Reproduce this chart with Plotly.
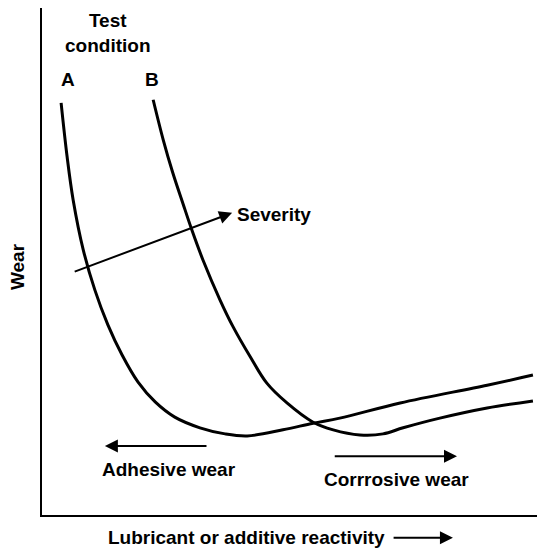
import plotly.graph_objects as go

# curve for test condition A (x = reactivity, y = wear)
a_x = [0.38, 0.50, 0.62, 0.82, 1.05, 1.31, 1.59, 1.91, 2.25, 2.64, 3.14, 3.64, 4.08, 4.79, 5.39, 5.92, 7.12, 8.85, 9.76]
a_y = [8.13, 7.06, 6.21, 5.23, 4.44, 3.75, 3.16, 2.62, 2.23, 1.93, 1.72, 1.60, 1.56, 1.68, 1.81, 1.91, 2.21, 2.56, 2.76]

# curve for test condition B
b_x = [2.21, 2.41, 2.60, 2.80, 2.98, 3.20, 3.54, 3.80, 4.14, 4.47, 4.87, 5.39, 5.79, 6.32, 6.78, 7.18, 7.91, 8.85, 9.76]
b_y = [8.19, 7.40, 6.75, 6.15, 5.62, 5.03, 4.24, 3.71, 3.12, 2.60, 2.21, 1.83, 1.68, 1.58, 1.60, 1.72, 1.91, 2.11, 2.25]

# arrows inside the plot: (tail x, tail y, head x, head y)
severity_arrow = (0.62, 4.79, 3.78, 5.96)
adhesive_arrow = (3.30, 1.36, 1.25, 1.36)
corrosive_arrow = (5.79, 1.16, 8.25, 1.16)

# text labels inside the plot: (text, x, y, anchor)
labels = [
    ("Test<br>condition", 1.31, 9.50, "center"),
    ("A", 0.52, 8.58, "center"),
    ("B", 2.19, 8.58, "center"),
    ("Severity", 3.84, 5.93, "left"),
    ("Adhesive wear", 2.52, 0.89, "center"),
    ("Corrrosive wear", 7.04, 0.71, "center"),
]

x_title = "Lubricant or additive reactivity"
y_title = "Wear"

FONT = dict(family="Liberation Sans, Arial, sans-serif", size=19, color="black", weight="bold")

fig = go.Figure()
for xs, ys, nm in [(a_x, a_y, "A"), (b_x, b_y, "B")]:
    fig.add_trace(go.Scatter(x=xs, y=ys, mode="lines", name=nm,
                             line=dict(color="black", width=3, shape="spline", smoothing=1.0),
                             showlegend=False, hoverinfo="skip"))

for tx, ty, hx, hy in [severity_arrow, adhesive_arrow, corrosive_arrow]:
    fig.add_annotation(x=hx, y=hy, ax=tx, ay=ty, xref="x", yref="y", axref="x", ayref="y",
                       text="", showarrow=True, arrowhead=2, arrowsize=1.3, arrowwidth=2,
                       arrowcolor="black", standoff=0, startstandoff=0)

for txt, x, y, anc in labels:
    fig.add_annotation(x=x, y=y, xref="x", yref="y", text=txt, showarrow=False,
                       xanchor=anc, yanchor="middle", font=FONT, align="center")

# axis titles, placed relative to the plot domain
fig.add_annotation(x=0.407, y=-0.045, xref="x domain", yref="y domain", text=x_title,
                   showarrow=False, xanchor="center", yanchor="middle", font=FONT)
fig.add_annotation(x=0.817, y=-0.045, ax=0.696, ay=-0.045, xref="x domain", yref="y domain",
                   axref="x domain", ayref="y domain", text="", showarrow=True, arrowhead=2,
                   arrowsize=1.3, arrowwidth=2, arrowcolor="black", standoff=0, startstandoff=0)
fig.add_annotation(x=0, y=0.489, xref="x domain", yref="y domain", xshift=-25, text=y_title,
                   textangle=-90, showarrow=False, xanchor="center", yanchor="middle", font=FONT)

# the page body has an 8px margin, so the margins here are shifted by that much
fig.update_layout(
    width=545, height=550,
    margin=dict(l=34, r=8, t=0, b=43),
    plot_bgcolor="white", paper_bgcolor="white",
    xaxis=dict(range=[0, 10], showgrid=False, zeroline=False, showticklabels=False,
               ticks="", showline=True, linecolor="black", linewidth=2, automargin=False),
    yaxis=dict(range=[0, 10], showgrid=False, zeroline=False, showticklabels=False,
               ticks="", showline=True, linecolor="black", linewidth=2, automargin=False),
)

fig.write_html("out.html")
